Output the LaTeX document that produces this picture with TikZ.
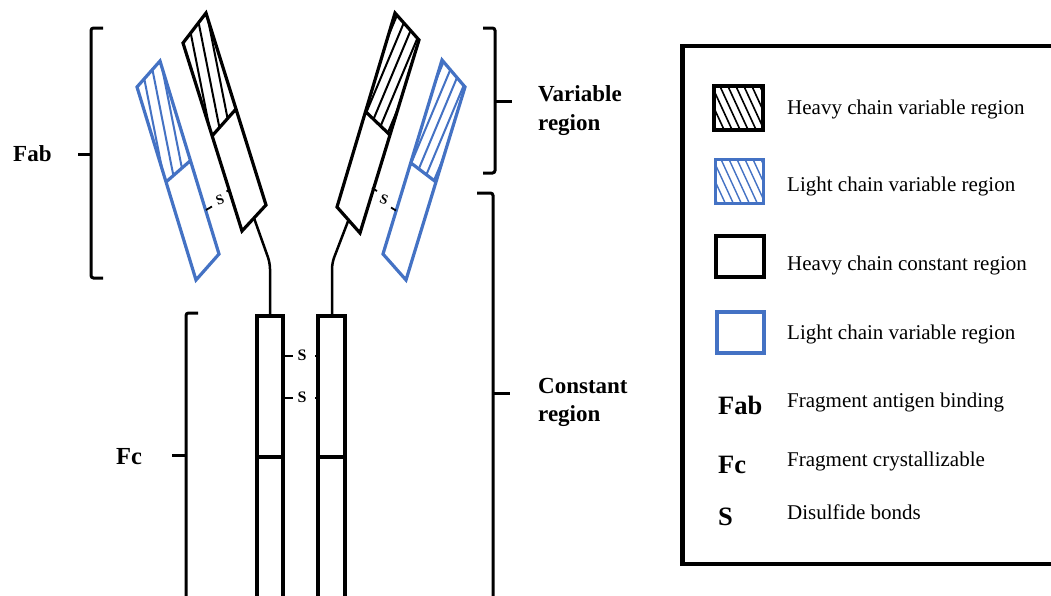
\documentclass[tikz,border=0pt]{standalone}
\usepackage{fontspec}
\usetikzlibrary{calc}
\setmainfont{Liberation Serif}
\definecolor{lblue}{RGB}{68,114,196}
% #1 clip path, #2 style, #3 centre, #4 half dx, #5 half dy, #6 spacing
\newcommand{\hatchfill}[6]{%
  \begin{scope}
    \clip #1;
    \foreach \k in {-9,...,9} \draw[#2,shift={(#3)}] (\k*#6-#4,-#5) -- ++(2*#4,2*#5);
  \end{scope}}
\tikzset{
  heavybox/.style={draw=black,line width=3.2pt,line join=miter},
  lightbox/.style={draw=lblue,line width=3.2pt,line join=miter},
  hatchk/.style={draw=black,line width=2pt},
  hatchb/.style={draw=lblue,line width=2pt},
  stalk/.style={draw=black,line width=2.5pt,rounded corners=6pt},
  brack/.style={draw=black,line width=3pt,rounded corners=2.5pt},
  thickbar/.style={draw=black,line width=4pt},
  bondline/.style={draw=black,line width=1.8pt},
  boldlab/.style={font=\fontsize{23}{26}\selectfont\bfseries,inner sep=0pt},
  leglab/.style={font=\fontsize{26.5}{30}\selectfont\bfseries,inner sep=0pt,anchor=base west},
  legtxt/.style={font=\fontsize{21}{25}\selectfont,inner sep=0pt,anchor=base west},
  slab/.style={font=\fontsize{16}{18}\selectfont\bfseries,inner sep=0pt},
  sarm/.style={font=\fontsize{14}{16}\selectfont\bfseries,inner sep=0pt}
}
\begin{document}
\begin{tikzpicture}[x=1pt,y=-1pt]
\useasboundingbox (0,0) rectangle (1051,595);
\fill[white] (0,0) rectangle (1051,595);
% ---------- arm corners ----------
\coordinate (LH1) at (206,13);  \coordinate (LH2) at (266,205);
\coordinate (LH3) at (242,231); \coordinate (LH4) at (183,43);
\coordinate (LHd1) at (236,109); \coordinate (LHd2) at (212,136);
\coordinate (LL1) at (160,61);  \coordinate (LL2) at (219,254);
\coordinate (LL3) at (196,280); \coordinate (LL4) at (137,87);
\coordinate (LLd1) at (190,161); \coordinate (LLd2) at (166,182);
\coordinate (RH1) at (395,13);  \coordinate (RH2) at (419,40);
\coordinate (RH3) at (360,233); \coordinate (RH4) at (337,207);
\coordinate (RHd1) at (390,135); \coordinate (RHd2) at (366,112);
\coordinate (RL1) at (442,60);  \coordinate (RL2) at (465,87);
\coordinate (RL3) at (406,280); \coordinate (RL4) at (383,254);
\coordinate (RLd1) at (436,182); \coordinate (RLd2) at (411,163);
% ---------- hatching ----------
\hatchfill{(LH1)--(LHd1)--(LHd2)--(LH4)--cycle}{hatchk}{209,75}{17}{86}{10}
\hatchfill{(LL1)--(LLd1)--(LLd2)--(LL4)--cycle}{hatchb}{163,123}{17}{86}{10}
\hatchfill{(RH1)--(RH2)--(RHd1)--(RHd2)--cycle}{hatchk}{392,75}{-36}{86}{10}
\hatchfill{(RL1)--(RL2)--(RLd1)--(RLd2)--cycle}{hatchb}{438,123}{-36}{86}{10}
% ---------- arm outlines ----------
\draw[heavybox] (LH1)--(LH2)--(LH3)--(LH4)--cycle (LHd1)--(LHd2);
\draw[lightbox] (LL1)--(LL2)--(LL3)--(LL4)--cycle (LLd1)--(LLd2);
\draw[heavybox] (RH1)--(RH2)--(RH3)--(RH4)--cycle (RHd1)--(RHd2);
\draw[lightbox] (RL1)--(RL2)--(RL3)--(RL4)--cycle (RLd1)--(RLd2);
% ---------- arm disulfide bonds ----------
\node[sarm,rotate=20] (sL) at (220,200) {S};
\draw[bondline] (206,210) -- (212,206.5);
\draw[bondline] (226.5,191.5) -- (230,189.5);
\node[sarm,rotate=-20] (sR) at (384,200) {S};
\draw[bondline] (372,188) -- (377,191);
\draw[bondline] (391,207.5) -- (396,210.5);
% ---------- Fc boxes ----------
\draw[heavybox] (257,600) -- (257,316) -- (283,316) -- (283,600);
\draw[heavybox] (318,600) -- (318,316) -- (345,316) -- (345,600);
\draw[thickbar] (255,316) -- (285,316) (255,457) -- (285,457);
\draw[thickbar] (316,316) -- (347,316) (316,457) -- (347,457);
% ---------- stalks ----------
\draw[stalk] ($(LH2)!0.5!(LH3)$) -- (270,263) -- (270,316);
\draw[stalk] ($(RH3)!0.5!(RH4)$) -- (332,263) -- (332,316);
% ---------- Fc disulfide bonds ----------
\node[slab] (s1) at (302,355) {S};
\node[slab] (s2) at (302,397) {S};
\draw[bondline] (283,356) -- (293,356) (315,356) -- (318,356);
\draw[bondline] (283,398) -- (293,398) (315,398) -- (318,398);
% ---------- brackets ----------
\draw[brack] (103,28) -- (91,28) -- (91,278) -- (103,278);
\draw[brack] (91,154) -- (78,154);
\node[boldlab,anchor=base west] (fab) at (13,161.5) {Fab};
\draw[brack] (198,313) -- (186,313) -- (186,605);
\draw[brack] (186,455) -- (172,455);
\node[boldlab,anchor=base west,font=\fontsize{24.5}{27}\selectfont\bfseries] (fc) at (116,464) {Fc};
\draw[brack] (483,28) -- (495,28) -- (495,173) -- (483,173);
\draw[brack] (495,101) -- (512,101);
\node[boldlab,anchor=base west] (var1) at (538,101.7) {Variable};
\node[boldlab,anchor=base west] (var2) at (538,130) {region};
\draw[brack] (477,193) -- (493,193) -- (493,605);
\draw[brack] (493,393) -- (510,393);
\node[boldlab,anchor=base west] (con1) at (538,393) {Constant};
\node[boldlab,anchor=base west] (con2) at (538,421.7) {region};
% ---------- legend ----------
\draw[line width=4.5pt] (1060,46) -- (682.5,46) -- (682.5,564) -- (1060,564);
\coordinate (k1a) at (714,86); \coordinate (k1b) at (763,130);
\hatchfill{(k1a) rectangle (k1b)}{draw=black,line width=1.6pt}{738,108}{12}{26}{8}
\draw[line width=3.5pt] (k1a) rectangle (k1b);
\coordinate (k2a) at (715,159); \coordinate (k2b) at (763,203);
\hatchfill{(k2a) rectangle (k2b)}{draw=lblue,line width=1.4pt}{739,181}{12}{26}{8}
\draw[draw=lblue,line width=3pt] (k2a) rectangle (k2b);
\draw[line width=4pt] (716,236) rectangle (764,277);
\draw[draw=lblue,line width=3.5pt] (717,312) rectangle (764,353);
\node[legtxt] (t1) at (787,114) {Heavy chain variable region};
\node[legtxt] (t2) at (787,191) {Light chain variable region};
\node[legtxt] (t3) at (787,270) {Heavy chain constant region};
\node[legtxt] (t4) at (787,339.5) {Light chain variable region};
\node[leglab] (l5) at (718,414) {Fab};
\node[legtxt] (t5) at (787,407) {Fragment antigen binding};
\node[leglab] (l6) at (718,473.5) {Fc};
\node[legtxt] (t6) at (787,466.5) {Fragment crystallizable};
\node[leglab] (l7) at (718,525) {S};
\node[legtxt] (t7) at (787,519) {Disulfide bonds};
\end{tikzpicture}
\end{document}
